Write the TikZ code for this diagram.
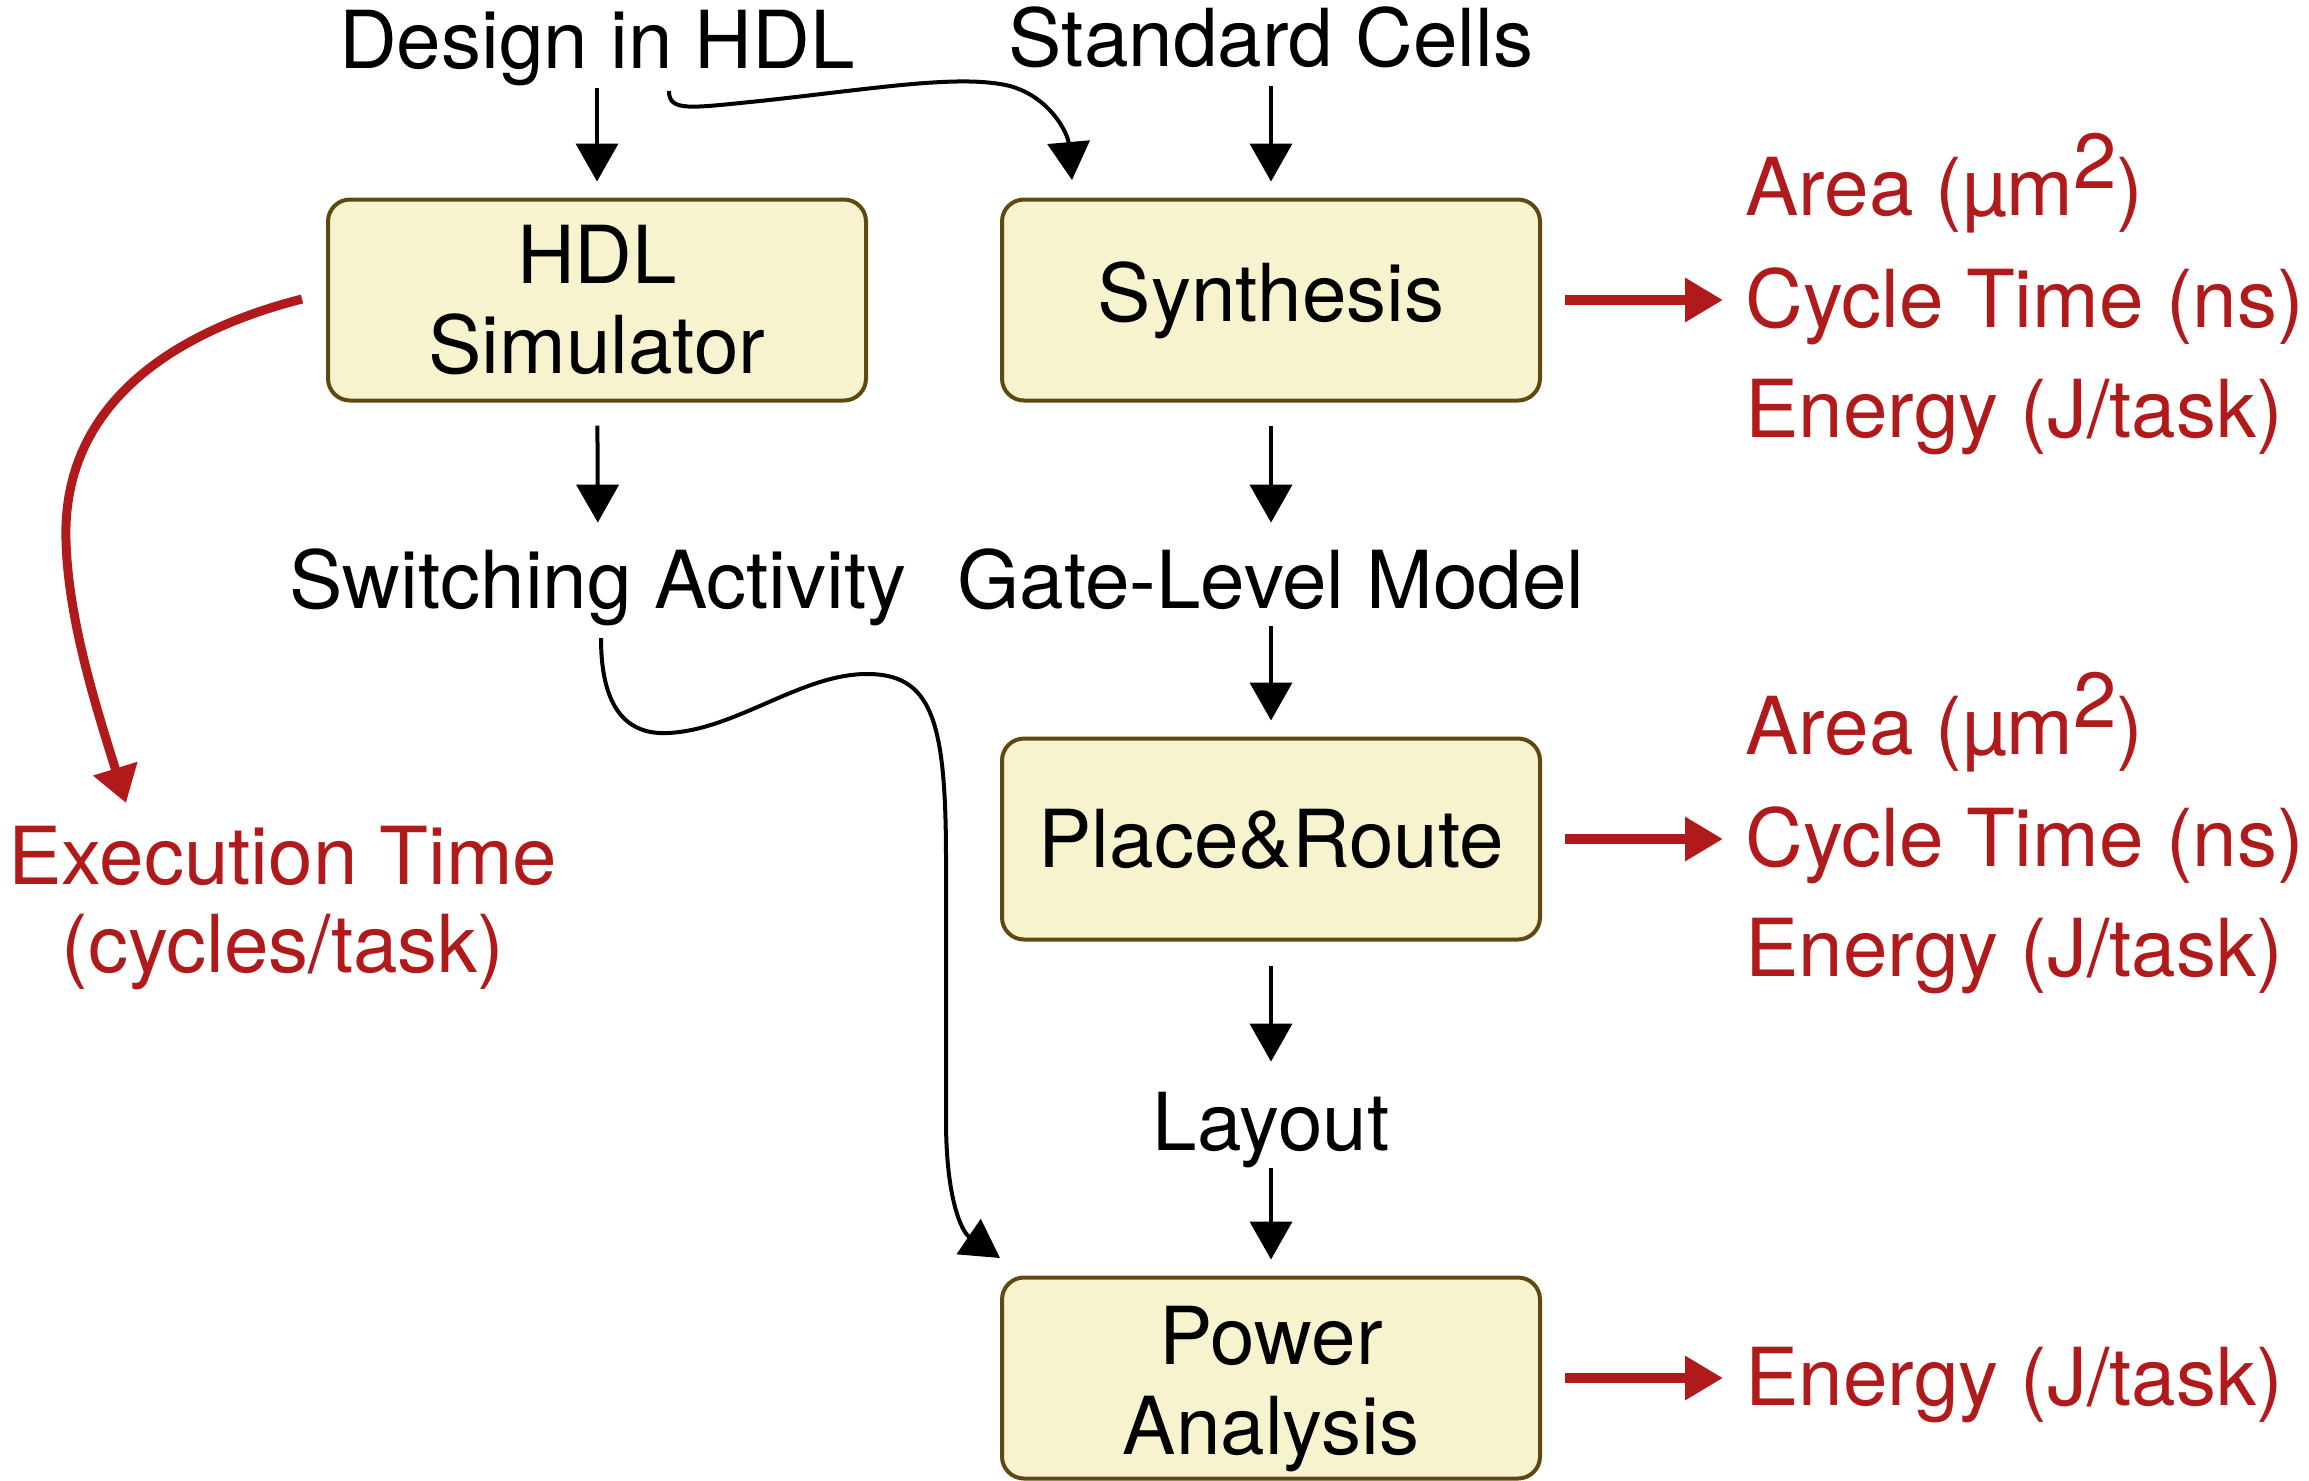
\documentclass[tikz,border=0pt]{standalone}
\usepackage{fontspec}
\setmainfont{TeX Gyre Heros}
\usetikzlibrary{arrows.meta}
\definecolor{boxfill}{HTML}{F7F3CE}
\definecolor{boxline}{HTML}{5E4A10}
\definecolor{metric}{HTML}{B01A1A}
\newcommand{\sqtwo}{\raisebox{0.33em}{\fontsize{39}{39}\selectfont 2}}
\begin{document}
\begin{tikzpicture}[x=0.5pt,y=-0.5pt,
  every node/.style={font=\fontsize{40}{45}\selectfont},
  proc/.style={draw=boxline, fill=boxfill, line width=2pt, rounded corners=11pt,
    minimum width=269pt, minimum height=100.5pt, align=center, inner sep=0pt},
  lbl/.style={anchor=base, inner sep=0pt, text height=29pt, text depth=9pt},
  mlbl/.style={anchor=base west, inner sep=0pt, text=metric, text height=29pt, text depth=9pt},
  flow/.style={line width=2pt, -{Triangle[length=19pt,width=21pt]}},
  metricarrow/.style={draw=metric, line width=5pt, -{Triangle[length=19pt,width=21pt]}},
  curvearrow/.style={line width=2pt, -{Triangle[length=19pt,width=21pt]}},
  redcurve/.style={draw=metric, line width=4.5pt, -{Triangle[length=18pt,width=22pt]}},
]
\useasboundingbox (0,0) rectangle (2309,1480);

% process boxes
\node[proc] (hdl) at (597,300) {HDL\\Simulator};
\node[proc] (synth) at (1271,300) {Synthesis};
\node[proc] (pr) at (1271,839) {Place\&Route};
\node[proc] (pa) at (1271,1378) {\rule{0pt}{40pt}Power\\Analysis};

% plain labels
\node[lbl] (design) at (597,68) {Design in HDL};
\node[lbl] (cells) at (1271,66) {Standard Cells};
\node[lbl] (switch) at (598,608) {Switching Activity};
\node[lbl] (gate) at (1271,608) {Gate-Level Model};
\node[lbl] (layout) at (1271,1150) {Layout};
\node[lbl, text=metric] (exec1) at (283,884) {Execution Time};
\node[lbl, text=metric] (exec2) at (283,972) {(cycles/task)};

% metrics
\node[mlbl] (area1) at (1745,215) {Area (µm\sqtwo)};
\node[mlbl] (cycle1) at (1745,327) {Cycle Time (ns)};
\node[mlbl] (energy1) at (1745,437) {Energy (J/task)};
\node[mlbl] (area2) at (1745,754) {Area (µm\sqtwo)};
\node[mlbl] (cycle2) at (1745,866) {Cycle Time (ns)};
\node[mlbl] (energy2) at (1745,976) {Energy (J/task)};
\node[mlbl] (energy3) at (1745,1405) {Energy (J/task)};

% straight flow arrows
\draw[flow, shorten <=1pt, shorten >=8pt] (design) -- (hdl);
\draw[flow, shorten <=1pt, shorten >=8pt] (cells) -- (synth);
\draw[flow, shorten <=11.5pt, shorten >=13.5pt] (hdl) -- (switch);
\draw[flow, shorten <=11.5pt, shorten >=13.5pt] (synth) -- (gate);
\draw[flow, shorten <=0pt, shorten >=8pt] (gate) -- (pr);
\draw[flow, shorten <=12pt, shorten >=15pt] (pr) -- (layout);
\draw[flow, shorten <=0pt, shorten >=8pt] (layout) -- (pa);

% metric arrows
\draw[metricarrow, shorten <=11.5pt, shorten >=11pt] (synth.east) -- (synth.east -| cycle1.west);
\draw[metricarrow, shorten <=11.5pt, shorten >=11pt] (pr.east) -- (pr.east -| cycle2.west);
\draw[metricarrow, shorten <=11.5pt, shorten >=11pt] (pa.east) -- (pa.east -| energy3.west);

% curved connectors
\coordinate (d1) at (669,91);
\coordinate (d2) at (1072,180);
\draw[curvearrow] (d1) .. controls (669,112) and (690,108) .. (760,101)
  .. controls (880,88) and (960,74) .. (1010,86)
  .. controls (1052,98) and (1068,135) .. (d2);

\coordinate (s1) at (601,638);
\coordinate (s2) at (1000,1258);
\draw[curvearrow] (s1) .. controls (601,710) and (628,735) .. (668,733)
  .. controls (735,730) and (800,675) .. (865,674)
  .. controls (932,673) and (946,720) .. (946,860)
  -- (946,1120)
  .. controls (946,1200) and (962,1232) .. (s2);

\coordinate (h1) at (302,299);
\coordinate (h2) at (126,803);
\draw[redcurve] (h1) .. controls (180,330) and (62,400) .. (66,540)
  .. controls (68,620) and (97,710) .. (h2);
\end{tikzpicture}
\end{document}
